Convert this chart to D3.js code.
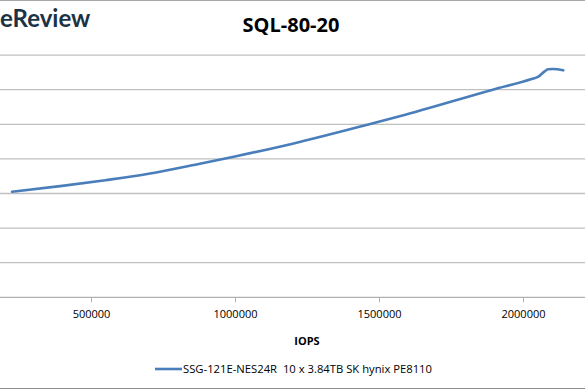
<!DOCTYPE html>
<html>
<head>
<meta charset="utf-8">
<script src="https://cdn.jsdelivr.net/npm/d3@7"></script>
<style>
  html, body { margin: 0; padding: 0; background: #fff; }
  svg { display: block; }
</style>
</head>
<body>
<svg id="chart" width="585" height="390"></svg>
<script>
// ---- data ----
const title = "SQL-80-20";
const xTitle = "IOPS";
const seriesName = "SSG-121E-NES24R  10 x 3.84TB SK hynix PE8110";
const iops = [226000, 400000, 550000, 700000, 878000, 1000000, 1200000, 1470000, 1575000, 1895000, 2030000, 2052000, 2075000, 2087000, 2105000, 2140000];
const latency = [0.305, 0.322, 0.3385, 0.357, 0.386, 0.407, 0.444, 0.501, 0.524, 0.600, 0.631, 0.637, 0.653, 0.659, 0.660, 0.656];
const xTicks = [500000, 1000000, 1500000, 2000000];
const yTicks = [0, 0.1, 0.2, 0.3, 0.4, 0.5, 0.6, 0.7];

const W = 585, H = 390;
const svg = d3.select("#chart");
const font = "'Open Sans', 'Liberation Sans', sans-serif";

const x = d3.scaleLinear().domain([0, 2500000]).range([-53, 667]);
const y = d3.scaleLinear().domain([0, 0.7]).range([297.3, 55.1]);

// border lines
svg.append("line").attr("x1", 0).attr("x2", W).attr("y1", 0.5).attr("y2", 0.5)
  .attr("stroke", "#a6a6a6").attr("stroke-width", 1);
svg.append("line").attr("x1", 0).attr("x2", W).attr("y1", 388.5).attr("y2", 388.5)
  .attr("stroke", "#8c8c8c").attr("stroke-width", 1);

// logo fragment
svg.append("text").attr("x", 0).attr("y", 27)
  .attr("font-family", "Lato, 'Open Sans', sans-serif").attr("font-weight", 700)
  .attr("font-size", 24).attr("fill", "#1b3345").text("eReview");

// title
svg.append("text").attr("x", 291).attr("y", 32).attr("text-anchor", "middle")
  .attr("font-family", font).attr("font-weight", 700).attr("font-size", 20)
  .attr("fill", "#000").text(title);

// gridlines
svg.append("g").selectAll("line").data(yTicks.slice(1)).join("line")
  .attr("x1", 0).attr("x2", W)
  .attr("y1", d => y(d)).attr("y2", d => y(d))
  .attr("stroke", "#c0c0c0").attr("stroke-width", 1.3);

// x axis
const xAxis = d3.axisBottom(x).tickValues(xTicks).tickFormat(d3.format("d")).tickSize(5).tickPadding(8);
const gx = svg.append("g").attr("transform", `translate(0,${y(0)})`).call(xAxis);
gx.select(".domain").remove();
gx.append("line").attr("x1", 0).attr("x2", W).attr("y1", 0).attr("y2", 0)
  .attr("stroke", "#b0b0b0").attr("stroke-width", 1.3);
gx.selectAll(".tick line").attr("stroke", "#b0b0b0");
gx.selectAll(".tick text").attr("font-family", font).attr("font-size", 11).attr("fill", "#000");

// x axis title
svg.append("text").attr("x", 307).attr("y", 345).attr("text-anchor", "middle")
  .attr("font-family", font).attr("font-weight", 700).attr("font-size", 11)
  .attr("fill", "#000").text(xTitle);

// series line
const pts = iops.map((v, i) => [v, latency[i]]);
const line = d3.line().x(d => x(d[0])).y(d => y(d[1])).curve(d3.curveMonotoneX);
svg.append("path").datum(pts).attr("d", line)
  .attr("fill", "none").attr("stroke", "#4a7ebb").attr("stroke-width", 2.6)
  .attr("stroke-linejoin", "round").attr("stroke-linecap", "round");

// legend
svg.append("line").attr("x1", 155).attr("x2", 182).attr("y1", 369).attr("y2", 369)
  .attr("stroke", "#4a7ebb").attr("stroke-width", 2.6);
svg.append("text").attr("x", 183).attr("y", 372.5)
  .attr("font-family", font).attr("font-size", 10.5).attr("fill", "#000")
  .attr("textLength", 249).attr("lengthAdjust", "spacingAndGlyphs")
  .style("white-space", "pre").text(seriesName);
</script>
</body>
</html>
